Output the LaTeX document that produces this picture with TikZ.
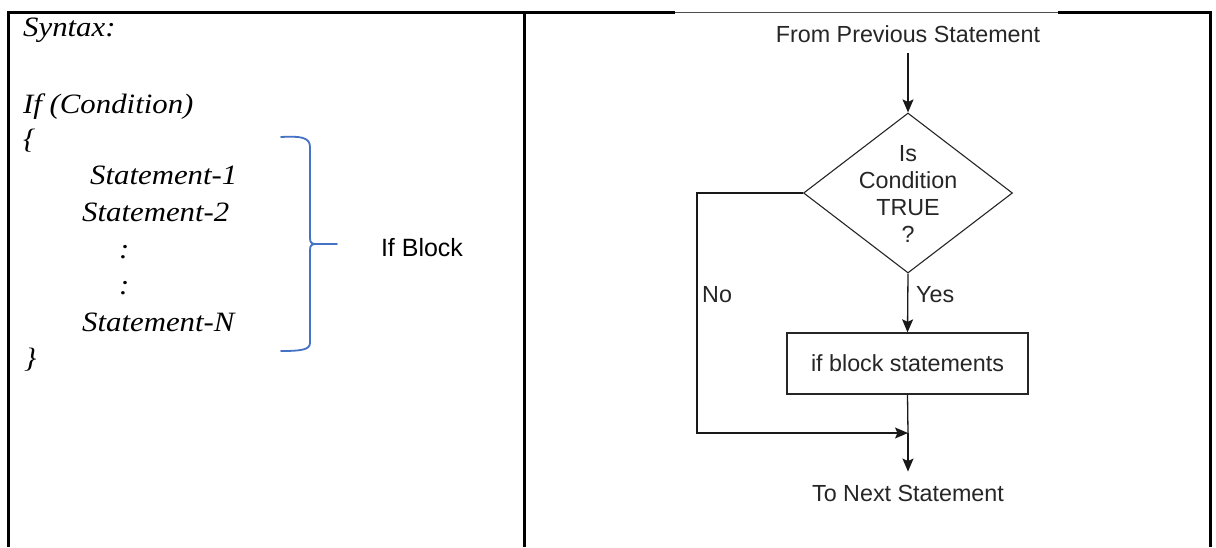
\documentclass[tikz,border=0pt]{standalone}
\usepackage{fontspec}
\setmainfont[FakeStretch=1.1]{Liberation Serif}
\newfontfamily\sansf{Liberation Sans}
\usetikzlibrary{shapes.geometric,arrows.meta}
\definecolor{braceblue}{RGB}{68,114,196}
\begin{document}
\begin{tikzpicture}[x=1pt,y=-1pt,
  frame/.style={line width=3pt,line join=miter},
  code/.style={anchor=base west,inner sep=0pt,font=\fontsize{28}{34}\selectfont\itshape},
  flow/.style={font=\sansf\fontsize{23.3}{27}\selectfont,text=black!85},
  conn/.style={line width=1.3pt,draw=black!90},
  arr/.style={conn,-{Stealth[length=13pt,width=11pt,inset=2.5pt]}},
  decbox/.style={diamond,draw=black!85,line width=1.1pt,minimum width=209pt,minimum height=160pt,inner sep=0pt},
  stbox/.style={rectangle,draw=black!85,line width=1.3pt,minimum width=241pt,minimum height=61pt,inner sep=0pt}]
\useasboundingbox (0,0) rectangle (1216,547);
\fill[white] (0,0) rectangle (1216,547);

% frame
\draw[frame] (8,547) -- (8,12.5) -- (675,12.5);
\draw[line width=1pt,draw=black!70] (675,12.5) -- (1058,12.5);
\draw[frame] (1058,12.5) -- (1210,12.5) -- (1210,547);
\draw[frame] (524,12.5) -- (524,547);

% code text
\node[code] (syn) at (23,36) {Syntax:};
\node[code] (ifc) at (23,113) {If (Condition)};
\node[code] (ob) at (23,148) {\{};
\node[code] (s1) at (90,184) {Statement-1};
\node[code] (s2) at (82,221) {Statement-2};
\node[code] (c1) at (119,258) {:};
\node[code] (c2) at (119,294) {:};
\node[code] (sn) at (82,331) {Statement-N};
\node[code] (cb) at (24,367) {\}};

% brace
\draw[braceblue,line width=1.8pt,line cap=round]
  (281,137) .. controls (300,136) and (310,137) .. (310,147) -- (310,238)
  .. controls (310,243) and (312,244) .. (316,244) -- (337,244);
\draw[braceblue,line width=1.8pt,line cap=round]
  (316,244) .. controls (312,244) and (310,245) .. (310,250) -- (310,343)
  .. controls (310,350) and (300,351) .. (281,351);
\node[font=\sansf\fontsize{25}{30}\selectfont,inner sep=0pt] (ifb) at (422,248) {If Block};

% flowchart
\node[flow,inner sep=0pt] (from) at (908,34.5) {From Previous Statement};
\node[decbox] (dec) at (908,193) {};
\node[flow,align=center,inner sep=0pt] (dectext) at (908,194) {Is\\Condition\\TRUE\\?};
\node[stbox,flow] (blk) at (907.5,363.5) {if block statements};
\node[flow,inner sep=0pt] (to) at (908,493) {To Next Statement};
\coordinate (join) at (908,433);
\coordinate (nocorner1) at (697,193);
\coordinate (nocorner2) at (697,433);

\draw[arr] ([yshift=-10pt]from.south) -- (dec.north);
\draw[arr] (dec.south) -- (blk.north);
\draw[conn] (blk.south) -- (join);
\draw[arr] (join) -- ([yshift=13pt]to.north);
\draw[arr] (dec.west) -- (nocorner1) -- (nocorner2) -- (join);

\node[flow,anchor=west,inner sep=0pt] (no) at (702,295) {No};
\node[flow,anchor=west,inner sep=0pt] (yes) at (916,295) {Yes};
\end{tikzpicture}
\end{document}
